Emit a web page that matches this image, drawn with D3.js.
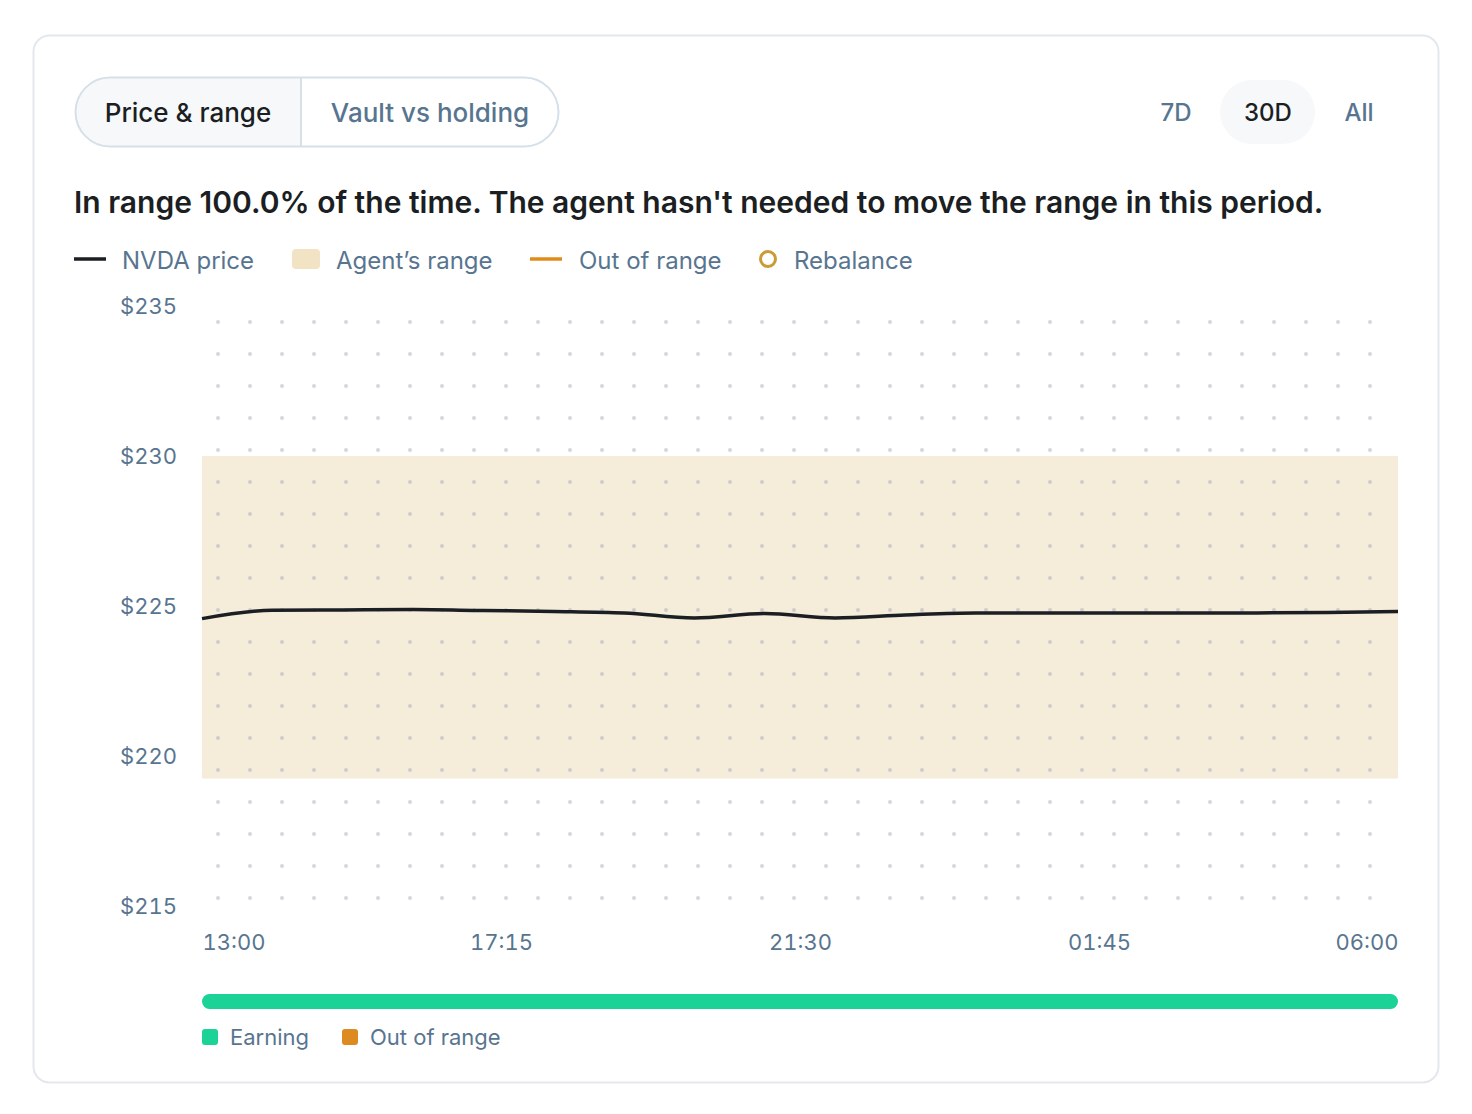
<!DOCTYPE html>
<html>
<head>
<meta charset="utf-8">
<script src="https://cdn.jsdelivr.net/npm/d3@7"></script>
<style>
  html, body { margin: 0; padding: 0; background: #ffffff; }
  svg { display: block; font-family: Inter, "Noto Sans", sans-serif; }
  .tnum { font-variant-numeric: tabular-nums; font-feature-settings: "tnum" 1; }
</style>
</head>
<body>
<svg id="chart" width="1472" height="1114"></svg>
<script>
// ---- data ----
const hours = ["13:00","14:00","15:00","16:00","17:00","18:00","19:00","20:00","21:00","22:00","23:00","00:00","01:00","02:00","03:00","04:00","05:00","06:00"];
const prices = [224.58,224.86,224.87,224.88,224.85,224.82,224.77,224.60,224.75,224.60,224.70,224.77,224.77,224.77,224.77,224.77,224.78,224.82];
const rangeLow = 219.25;
const rangeHigh = 230.0;
const yTicks = [215, 220, 225, 230, 235];
const xTickLabels = ["13:00", "17:15", "21:30", "01:45", "06:00"];
const xTickHours = [0, 4.25, 8.5, 12.75, 17];
const tabs = ["Price & range", "Vault vs holding"];
const periods = ["7D", "30D", "All"];
const headline = "In range 100.0% of the time. The agent hasn't needed to move the range in this period.";
const legendItems = ["NVDA price", "Agent\u2019s range", "Out of range", "Rebalance"];
const statusItems = ["Earning", "Out of range"];
const earningShare = [1.0, 0.0];

// ---- colors ----
const C = {
  text: "#1b1e22", muted: "#587590", border: "#e3e8ee", tabBorder: "#d6e0e9",
  tabActive: "#f6f8fa", range: "#f5ecda", rangeSwatch: "#f1e3c4", line: "#1b1e22",
  orange: "#e08b1b", gold: "#c99c35", green: "#1bd396", orangeSq: "#dd8a21"
};

const svg = d3.select("#chart");

// card
svg.append("rect").attr("x", 33.5).attr("y", 35.5).attr("width", 1405).attr("height", 1047)
  .attr("rx", 16).attr("fill", "#fff").attr("stroke", C.border).attr("stroke-width", 2);

// tabs
const tabG = svg.append("g");
tabG.append("path")
  .attr("d", "M301,78 H110 A34,34 0 0 0 110,146 H301 Z").attr("fill", C.tabActive);
tabG.append("rect").attr("x", 75.5).attr("y", 77.5).attr("width", 483).attr("height", 69)
  .attr("rx", 34.5).attr("fill", "none").attr("stroke", C.tabBorder).attr("stroke-width", 2);
tabG.append("line").attr("x1", 301).attr("x2", 301).attr("y1", 78).attr("y2", 146)
  .attr("stroke", C.tabBorder).attr("stroke-width", 2);
const tabX = [188, 430];
tabG.selectAll("text.tab").data(tabs).join("text")
  .attr("x", (d, i) => tabX[i]).attr("y", 121.5).attr("text-anchor", "middle")
  .attr("font-size", 26).attr("font-weight", 500)
  .attr("fill", (d, i) => i === 0 ? C.text : C.muted).text(d => d);

// period buttons
svg.append("rect").attr("x", 1220).attr("y", 80).attr("width", 95).attr("height", 64)
  .attr("rx", 32).attr("fill", C.tabActive);
const perX = [1176, 1268, 1359];
svg.selectAll("text.per").data(periods).join("text")
  .attr("x", (d, i) => perX[i]).attr("y", 120.5).attr("text-anchor", "middle")
  .attr("font-size", 24).attr("font-weight", 500)
  .attr("fill", (d, i) => i === 1 ? C.text : C.muted).text(d => d);

// headline
svg.append("text").attr("x", 74).attr("y", 212.5).attr("font-size", 30).attr("font-weight", 600)
  .attr("fill", C.text).text(headline);

// legend
const lg = svg.append("g");
lg.append("line").attr("x1", 74).attr("x2", 106).attr("y1", 259).attr("y2", 259)
  .attr("stroke", C.line).attr("stroke-width", 3.5);
lg.append("rect").attr("x", 292).attr("y", 249).attr("width", 28).attr("height", 20)
  .attr("rx", 4).attr("fill", C.rangeSwatch);
lg.append("line").attr("x1", 530).attr("x2", 562).attr("y1", 259).attr("y2", 259)
  .attr("stroke", C.orange).attr("stroke-width", 3.5);
lg.append("circle").attr("cx", 768).attr("cy", 259).attr("r", 7.5)
  .attr("fill", "none").attr("stroke", C.gold).attr("stroke-width", 3);
const lgX = [122, 336, 579, 794];
lg.selectAll("text").data(legendItems).join("text")
  .attr("x", (d, i) => lgX[i]).attr("y", 268.5).attr("font-size", 24)
  .attr("fill", C.muted).text(d => d);

// scales
const plot = { left: 202, right: 1398, top: 306, bottom: 906 };
const x = d3.scaleLinear().domain([0, 17]).range([plot.left, plot.right]);
const y = d3.scaleLinear().domain([215, 235]).range([plot.bottom, plot.top]);

// range band
svg.append("rect").attr("x", plot.left).attr("width", plot.right - plot.left)
  .attr("y", y(rangeHigh)).attr("height", y(rangeLow) - y(rangeHigh)).attr("fill", C.range);

// dot grid pattern
const defs = svg.append("defs");
const pat = defs.append("pattern").attr("id", "dots").attr("patternUnits", "userSpaceOnUse")
  .attr("x", plot.left).attr("y", plot.top).attr("width", 32).attr("height", 32);
pat.append("circle").attr("cx", 16).attr("cy", 16).attr("r", 2).attr("fill", "#94a3b8").attr("fill-opacity", 0.42);
svg.append("rect").attr("x", plot.left).attr("y", plot.top)
  .attr("width", plot.right - plot.left).attr("height", plot.bottom - plot.top).attr("fill", "url(#dots)");

// y axis
const yAxis = d3.axisLeft(y).tickValues(yTicks).tickSize(0).tickPadding(0).tickFormat(d => "$" + d);
const yg = svg.append("g").attr("transform", "translate(177,0)").call(yAxis);
yg.select(".domain").remove();
yg.selectAll("text").attr("class", "tnum").attr("font-size", 22).attr("fill", C.muted)
  .attr("font-family", "Inter, sans-serif").attr("dy", "0.35em");

// x axis
const xAxis = d3.axisBottom(x).tickValues(xTickHours).tickSize(0).tickPadding(0)
  .tickFormat((d, i) => xTickLabels[i]);
const xg = svg.append("g").attr("transform", "translate(0,950)").call(xAxis);
xg.select(".domain").remove();
xg.selectAll("text").attr("class", "tnum").attr("font-size", 22).attr("fill", C.muted)
  .attr("font-family", "Inter, sans-serif").attr("dy", 0)
  .attr("text-anchor", (d, i) => i === 0 ? "start" : (i === xTickHours.length - 1 ? "end" : "middle"));

// price line
const line = d3.line().x((d, i) => x(i)).y(d => y(d)).curve(d3.curveMonotoneX);
svg.append("path").datum(prices).attr("d", line).attr("fill", "none")
  .attr("stroke", C.line).attr("stroke-width", 3.5).attr("stroke-linejoin", "round");

// status bar
const bx = d3.scaleLinear().domain([0, 1]).range([plot.left, plot.right]);
svg.append("rect").attr("x", bx(0)).attr("y", 994).attr("width", bx(earningShare[0]) - bx(0))
  .attr("height", 15).attr("rx", 7.5).attr("fill", C.green);

// status legend
const sq = [{ x: 202, c: C.green }, { x: 342, c: C.orangeSq }];
svg.selectAll("rect.sq").data(statusItems).join("rect")
  .attr("x", (d, i) => sq[i].x).attr("y", 1029).attr("width", 16).attr("height", 16)
  .attr("rx", 3).attr("fill", (d, i) => sq[i].c);
const sqT = [230, 370];
svg.selectAll("text.st").data(statusItems).join("text")
  .attr("x", (d, i) => sqT[i]).attr("y", 1045).attr("font-size", 22)
  .attr("fill", C.muted).text(d => d);
</script>
</body>
</html>
